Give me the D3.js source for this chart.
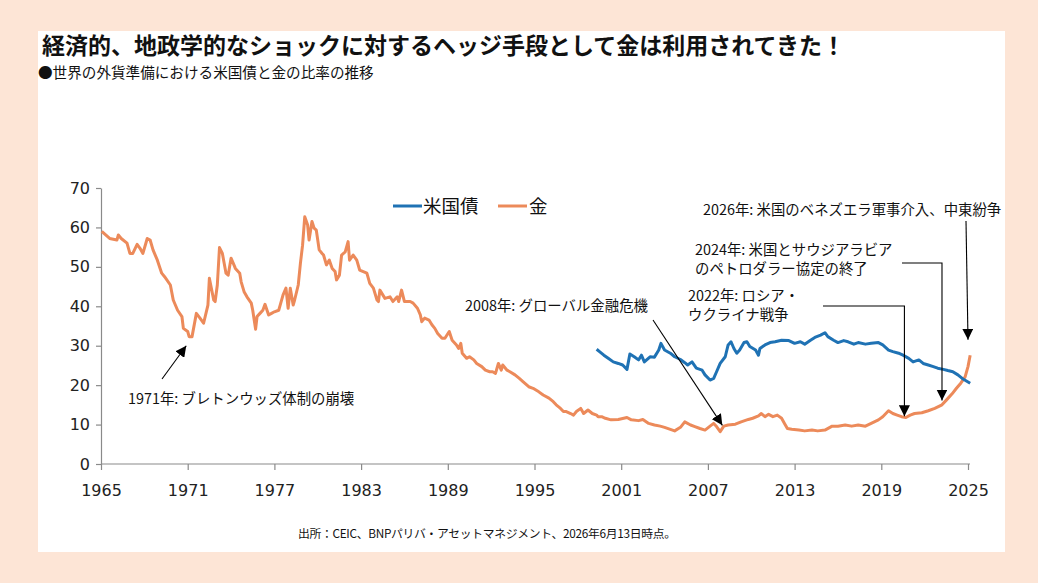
<!DOCTYPE html>
<html>
<head>
<meta charset="utf-8">
<script src="https://cdn.jsdelivr.net/npm/d3@7"></script>
<style>
  html, body { margin: 0; padding: 0; background: #fde5d6; }
  svg { display: block; }
</style>
</head>
<body>
<svg id="chart" width="1038" height="583"></svg>
<script>
// ---------------- DATA ----------------
const titleText = "経済的、地政学的なショックに対するヘッジ手段として金は利用されてきた！";
const subtitleText = "●世界の外貨準備における米国債と金の比率の推移";
const sourceText = "出所：CEIC、BNPパリバ・アセットマネジメント、2026年6月13日時点。";
const seriesNames = ["米国債", "金"];
const xTicks = [1965, 1971, 1977, 1983, 1989, 1995, 2001, 2007, 2013, 2019, 2025];
const yTicks = [0, 10, 20, 30, 40, 50, 60, 70];

// Gold share of reserves (%) [year, value]
const goldYears = [1965.05,1965.6,1966.1,1966.2,1966.4,1966.8,1967.0,1967.2,1967.5,1967.7,1967.9,1968.2,1968.4,1968.6,1968.9,1969.2,1969.4,1969.8,1970.0,1970.3,1970.6,1970.7,1971.0,1971.1,1971.3,1971.6,1971.85,1972.1,1972.4,1972.5,1972.8,1972.9,1973.05,1973.2,1973.4,1973.65,1973.8,1974.0,1974.2,1974.3,1974.6,1974.7,1974.9,1975.1,1975.4,1975.5,1975.7,1975.8,1976.0,1976.2,1976.35,1976.6,1976.8,1977.0,1977.3,1977.4,1977.6,1977.8,1977.95,1978.1,1978.3,1978.4,1978.65,1978.8,1978.95,1979.1,1979.3,1979.4,1979.6,1979.75,1979.9,1980.1,1980.3,1980.4,1980.6,1980.8,1981.0,1981.2,1981.3,1981.5,1981.65,1981.9,1982.1,1982.2,1982.45,1982.7,1982.9,1983.15,1983.4,1983.6,1983.85,1984.1,1984.2,1984.3,1984.65,1985.0,1985.2,1985.5,1985.6,1985.8,1986.0,1986.4,1986.6,1986.9,1987.1,1987.2,1987.4,1987.7,1987.9,1988.1,1988.3,1988.6,1988.8,1989.1,1989.3,1989.6,1989.75,1989.9,1990.0,1990.3,1990.5,1990.8,1991.0,1991.35,1991.6,1991.9,1992.1,1992.3,1992.5,1992.7,1992.8,1993.1,1993.3,1993.65,1993.95,1994.2,1994.6,1994.9,1995.3,1995.6,1996.0,1996.3,1996.5,1996.8,1997.0,1997.2,1997.5,1997.7,1997.9,1998.2,1998.4,1998.7,1999.0,1999.3,1999.4,1999.65,1999.9,2000.3,2000.8,2001.4,2001.7,2002.2,2002.5,2002.9,2003.3,2003.7,2004.0,2004.4,2004.7,2005.1,2005.4,2005.8,2006.1,2006.45,2006.8,2007.15,2007.4,2007.6,2007.85,2008.1,2008.4,2008.9,2009.3,2009.8,2010.1,2010.5,2010.7,2010.95,2011.2,2011.5,2011.8,2012.1,2012.3,2012.5,2012.8,2013.3,2013.7,2014.2,2014.6,2015.1,2015.6,2016.0,2016.5,2016.95,2017.4,2017.9,2018.3,2018.8,2019.1,2019.5,2019.8,2020.1,2020.4,2020.7,2021.0,2021.3,2021.8,2022.25,2022.7,2023.2,2023.5,2023.9,2024.2,2024.5,2024.8,2025.0,2025.15];
const goldValues = [59.0,57.2,56.8,58.1,57.2,56.0,53.4,53.4,55.7,54.7,53.4,57.2,56.8,54.3,51.7,48.4,47.5,45.4,41.6,39.0,37.4,34.4,33.6,32.3,32.3,38.2,37.0,35.7,40.3,47.1,41.6,41.2,45.4,54.9,53.4,48.4,47.9,52.2,50.5,49.6,48.4,46.2,43.7,42.4,40.8,39.0,34.2,37.4,38.2,39.0,40.5,37.8,38.2,38.6,39.0,40.3,42.9,44.6,39.5,44.6,40.3,41.6,45.4,50.9,55.5,62.7,60.6,56.8,61.5,59.8,59.3,54.3,53.4,53.0,50.5,51.7,49.6,48.8,46.7,47.9,53.0,53.8,56.4,51.7,53.0,51.7,49.2,48.8,48.4,45.8,44.6,41.6,41.2,44.1,42.0,42.4,41.2,42.4,41.2,44.1,41.2,41.2,40.8,39.5,37.8,36.1,37.0,36.5,35.3,34.4,33.1,31.9,31.9,33.6,31.4,30.2,29.3,30.6,28.1,26.8,27.2,26.4,25.5,24.7,23.8,23.4,23.4,23.0,25.5,23.8,25.1,23.8,23.4,22.6,21.7,20.9,19.6,19.2,18.3,17.5,16.7,15.8,15.0,14.1,13.3,13.3,12.8,12.4,13.3,14.1,12.8,13.7,12.8,12.4,12.0,12.0,11.6,11.2,11.3,11.8,11.2,11.0,11.3,10.3,9.9,9.6,9.3,8.8,8.4,9.3,10.7,9.9,9.5,9.0,8.6,9.6,10.3,9.5,8.2,9.6,9.9,10.1,10.7,11.3,11.6,12.2,12.8,12.0,12.6,12.0,12.4,11.6,10.3,9.0,8.8,8.6,8.4,8.6,8.4,8.6,9.6,9.6,9.9,9.6,9.9,9.6,10.3,11.2,12.0,13.5,12.8,12.4,12.0,11.8,12.4,12.8,13.0,13.5,14.1,15.0,16.2,17.8,19.2,20.5,22.1,24.7,27.6];

// US Treasuries share of reserves (%)
const ustYears = [1999.3,1999.5,1999.8,2000.1,2000.45,2000.8,2001.1,2001.4,2001.6,2001.9,2002.2,2002.4,2002.6,2003.0,2003.3,2003.6,2003.75,2004.0,2004.4,2004.7,2005.1,2005.4,2005.6,2005.9,2006.2,2006.6,2006.8,2007.15,2007.4,2007.6,2007.85,2008.2,2008.4,2008.6,2008.8,2009.0,2009.2,2009.5,2009.7,2009.9,2010.3,2010.5,2010.6,2010.95,2011.3,2011.65,2012.1,2012.6,2013.0,2013.4,2013.7,2014.1,2014.4,2014.8,2015.1,2015.3,2015.7,2016.0,2016.4,2016.7,2017.1,2017.4,2017.9,2018.3,2018.8,2019.1,2019.5,2019.8,2020.2,2020.5,2020.9,2021.2,2021.6,2021.9,2022.25,2022.6,2022.9,2023.3,2023.6,2023.95,2024.3,2024.6,2025.15];
const ustValues = [29.1,28.5,27.6,26.8,25.9,25.5,25.1,24.0,27.9,27.2,26.4,27.6,25.9,27.2,27.1,28.9,30.6,28.9,28.1,27.2,26.5,25.7,25.1,25.9,24.3,23.8,22.6,21.3,21.7,23.4,25.5,27.2,30.2,31.0,29.3,28.1,28.9,30.8,31.0,29.8,28.9,27.6,29.3,30.2,30.8,31.0,31.4,31.3,30.6,31.0,30.4,31.4,32.1,32.7,33.3,32.3,31.4,30.8,31.3,31.0,30.4,30.8,30.4,30.6,30.8,30.2,28.9,28.5,28.1,27.6,26.8,25.9,26.4,25.5,25.1,24.7,24.3,24.0,23.7,23.4,22.6,21.7,20.5];

// annotation texts and the [year, value] they point to
const annoTexts = [
  ["1971年: ブレトンウッズ体制の崩壊"],
  ["2008年: グローバル金融危機"],
  ["2022年: ロシア・", "ウクライナ戦争"],
  ["2024年: 米国とサウジアラビア", "のペトロダラー協定の終了"],
  ["2026年: 米国のベネズエラ軍事介入、中東紛争"]
];
const annoTargets = [[1970.9, 30.0], [2008.0, 9.8], [2020.6, 12.1], [2023.2, 16.1], [2025.0, 31.5]];

// ---------------- DRAW ----------------
const svg = d3.select("#chart");
const W = 1038, H = 583;
const gold = "#ec8a5a", blue = "#1f72b4";
const cjk = "'Noto Sans CJK JP', 'Noto Sans', sans-serif";
const num = "'DejaVu Sans', sans-serif";

svg.append("rect").attr("width", W).attr("height", H).attr("fill", "#fde5d6");
svg.append("rect").attr("x", 38).attr("y", 31).attr("width", 967).attr("height", 521).attr("fill", "#ffffff");

svg.append("text").attr("x", 42).attr("y", 54)
  .attr("font-family", cjk).attr("font-size", 23).attr("font-weight", 700)
  .attr("fill", "#111").text(titleText);
svg.append("text").attr("x", 38).attr("y", 78)
  .attr("font-family", cjk).attr("font-size", 14.6)
  .attr("fill", "#111").text(subtitleText);

const x = d3.scaleLinear().domain([1965, 2025]).range([101, 968]);
const y = d3.scaleLinear().domain([0, 70]).range([464, 188]);

const xAxis = svg.append("g").attr("transform", `translate(0,${y(0)})`)
  .call(d3.axisBottom(x).tickValues(xTicks).tickFormat(d3.format("d")).tickSize(6).tickSizeOuter(0).tickPadding(15));
xAxis.select(".domain").attr("d", `M${x(1965)},0H${x(2025) + 2}`);
const yAxis = svg.append("g").attr("transform", `translate(${x(1965)},0)`)
  .call(d3.axisLeft(y).tickValues(yTicks).tickSize(5).tickSizeOuter(0).tickPadding(6));
[xAxis, yAxis].forEach(g => {
  g.selectAll(".domain, .tick line").attr("stroke", "#8a8a8a").attr("stroke-width", 1.2);
  g.selectAll("text").attr("font-family", num).attr("font-size", 16).attr("fill", "#222");
});

const line = d3.line().x(d => x(d[0])).y(d => y(d[1]));
const goldData = goldYears.map((yr, i) => [yr, goldValues[i]]);
const ustData = ustYears.map((yr, i) => [yr, ustValues[i]]);

svg.append("path").datum(goldData).attr("d", line)
  .attr("fill", "none").attr("stroke", gold).attr("stroke-width", 3).attr("stroke-linejoin", "round");
svg.append("path").datum(ustData).attr("d", line)
  .attr("fill", "none").attr("stroke", blue).attr("stroke-width", 3).attr("stroke-linejoin", "round");

// legend
const legend = svg.append("g");
const legItems = [[seriesNames[0], blue, 393, 423], [seriesNames[1], gold, 498, 529]];
legItems.forEach(([name, col, lx, tx]) => {
  legend.append("line").attr("x1", lx).attr("x2", lx + 29).attr("y1", 206).attr("y2", 206)
    .attr("stroke", col).attr("stroke-width", 3);
  legend.append("text").attr("x", tx).attr("y", 212.5).attr("font-family", cjk).attr("font-size", 18.5)
    .attr("fill", "#111").text(name);
});

// annotations
const defs = svg.append("defs");
defs.append("marker").attr("id", "ah").attr("viewBox", "0 0 10 10").attr("refX", 10).attr("refY", 5)
  .attr("markerWidth", 11).attr("markerHeight", 11).attr("markerUnits", "userSpaceOnUse").attr("orient", "auto")
  .append("path").attr("d", "M0,0L10,5L0,10z").attr("fill", "#000");

const annoStyle = sel => sel.attr("font-family", cjk).attr("font-size", 14.4).attr("fill", "#111");
const textPos = [[128, 404], [465, 311], [688, 301], [695, 255], [703, 215]];
annoTexts.forEach((lines, i) => {
  const t = svg.append("text").attr("x", textPos[i][0]).attr("y", textPos[i][1]).call(annoStyle);
  lines.forEach((ln, j) => t.append("tspan").attr("x", textPos[i][0]).attr("dy", j === 0 ? 0 : 19).text(ln));
});
const arrow = () => svg.append("path").attr("fill", "none").attr("stroke", "#000").attr("stroke-width", 1.1)
  .attr("marker-end", "url(#ah)");
const tg = annoTargets.map(d => [x(d[0]), y(d[1])]);
arrow().attr("d", `M162,379L${tg[0][0]},${tg[0][1]}`);
arrow().attr("d", `M653,320L${tg[1][0]},${tg[1][1]}`);
arrow().attr("d", `M823,306H${tg[2][0]}V${tg[2][1]}`);
arrow().attr("d", `M902,263H${tg[3][0]}V${tg[3][1]}`);
arrow().attr("d", `M966,221L${tg[4][0]},${tg[4][1]}`);

svg.append("text").attr("x", 298).attr("y", 538).attr("font-family", cjk).attr("font-size", 11.8)
  .attr("letter-spacing", -0.3)
  .attr("fill", "#111").text(sourceText);
</script>
</body>
</html>
